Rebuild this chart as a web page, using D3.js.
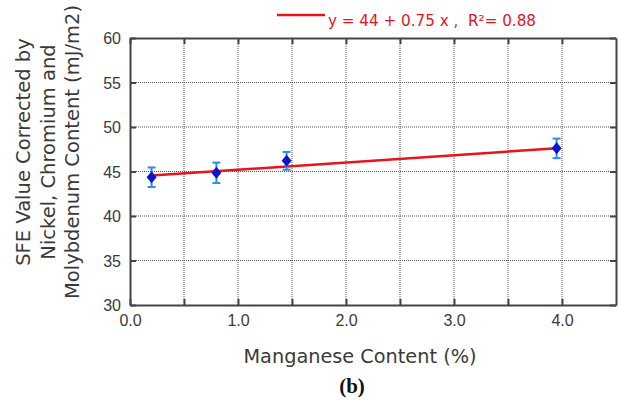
<!DOCTYPE html>
<html><head><meta charset="utf-8">
<script src="https://cdn.jsdelivr.net/npm/d3@7"></script>
<style>body{margin:0;background:#fff}svg{display:block}</style>
</head><body><svg id="c" width="626" height="403"></svg>
<script>
const mnContent = [0.2, 0.8, 1.45, 3.95];
const sfeValues = [44.35, 44.85, 46.2, 47.6];
const sfeErrors = [1.1, 1.15, 1.0, 1.1];
const fitX = [0.2, 3.95];
const fitY = [44.55, 47.6];
const xTickLabels = ["0.0", "1.0", "2.0", "3.0", "4.0"];
const yTickLabels = ["30", "35", "40", "45", "50", "55", "60"];
const legendText = "y = 44 + 0.75 x ,  R\u00B2= 0.88";
const yTitleLines = ["SFE Value Corrected by", "Nickel, Chromium and", "Molybdenum Content (mJ/m2)"];
const xTitle = "Manganese Content (%)";
const panelLabel = "(b)";

const svg = d3.select("#c");
const m = {l:130, t:38, r:616, b:305};
const x = d3.scaleLinear().domain([0, 4.5]).range([m.l, m.r]);
const y = d3.scaleLinear().domain([30, 60]).range([m.b, m.t]);
const font = "'Liberation Sans', Arial, sans-serif";
const tfont = "'DejaVu Sans', sans-serif";
const txt = "#3a3a3a";

// grid
const xg = d3.range(0.5, 4.5, 0.5);
const yg = d3.range(35, 60, 5);
svg.append("g").selectAll("line").data(xg).join("line")
  .attr("x1", d=>x(d)).attr("x2", d=>x(d)).attr("y1", m.t).attr("y2", m.b)
  .attr("stroke", "#555").attr("stroke-width", 1).attr("stroke-dasharray", "1,1");
svg.append("g").selectAll("line").data(yg).join("line")
  .attr("y1", d=>y(d)).attr("y2", d=>y(d)).attr("x1", m.l).attr("x2", m.r)
  .attr("stroke", "#555").attr("stroke-width", 1).attr("stroke-dasharray", "1,1");

// axes with inward ticks
const axB = svg.append("g").attr("transform", `translate(0,${m.b})`)
  .call(d3.axisBottom(x).tickValues(d3.range(0, 4.5, 0.5)).tickSizeInner(-6).tickSizeOuter(0).tickPadding(10)
    .tickFormat(d => Number.isInteger(d) ? xTickLabels[d] : ""));
const axL = svg.append("g").attr("transform", `translate(${m.l},0)`)
  .call(d3.axisLeft(y).tickValues(yTickLabels.map(Number)).tickSizeInner(-6).tickSizeOuter(0).tickPadding(9)
    .tickFormat((d,i) => yTickLabels[i]));
const axT = svg.append("g").attr("transform", `translate(0,${m.t})`)
  .call(d3.axisTop(x).tickValues(d3.range(0, 4.5, 0.5)).tickSizeInner(-6).tickSizeOuter(0).tickFormat(""));
const axR = svg.append("g").attr("transform", `translate(${m.r},0)`)
  .call(d3.axisRight(y).tickValues(yTickLabels.map(Number)).tickSizeInner(-6).tickSizeOuter(0).tickFormat(""));
[axB, axL, axT, axR].forEach(a => {
  a.select(".domain").attr("stroke", "#444").attr("stroke-width", 2);
  a.selectAll(".tick line").attr("stroke", "#444").attr("stroke-width", 2);
  a.selectAll("text").attr("font-family", font).attr("font-size", 16).attr("fill", txt);
});
axL.selectAll("text").attr("dy", "0.35em");

// fit line
svg.append("path").datum(fitX.map((d,i)=>[d, fitY[i]]))
  .attr("d", d3.line().x(d=>x(d[0])).y(d=>y(d[1])))
  .attr("stroke", "#e8141c").attr("stroke-width", 2.5).attr("fill", "none");

// error bars
const eb = svg.append("g").attr("stroke", "#2a8cf0").attr("stroke-width", 2);
mnContent.forEach((d,i) => {
  const cx = x(d), y1 = y(sfeValues[i]+sfeErrors[i]), y2 = y(sfeValues[i]-sfeErrors[i]);
  eb.append("line").attr("x1", cx).attr("x2", cx).attr("y1", y1).attr("y2", y2);
  eb.append("line").attr("x1", cx-4).attr("x2", cx+4).attr("y1", y1).attr("y2", y1);
  eb.append("line").attr("x1", cx-4).attr("x2", cx+4).attr("y1", y2).attr("y2", y2);
});

// markers
svg.append("g").selectAll("path").data(mnContent).join("path")
  .attr("transform", (d,i)=>`translate(${x(d)},${y(sfeValues[i])})`)
  .attr("d", "M0,-6L5,0L0,6L-5,0Z").attr("fill", "#0a14d8");

// legend
svg.append("line").attr("x1", 277).attr("x2", 325).attr("y1", 15).attr("y2", 15)
  .attr("stroke", "#e8141c").attr("stroke-width", 2.5);
svg.append("text").attr("x", 328).attr("y", 26).attr("font-family", tfont).attr("font-size", 15.2)
  .attr("fill", "#e8141c").attr("xml:space", "preserve").text(legendText);

// axis titles
const yt = svg.append("text").attr("transform", "translate(30,152) rotate(-90)")
  .attr("text-anchor", "middle").attr("font-family", tfont).attr("font-size", 19.5).attr("fill", txt);
yTitleLines.forEach((s,i) =>
  yt.append("tspan").attr("x", 0).attr("dy", i===0 ? 0 : 24.5).text(s));

svg.append("text").attr("x", 360).attr("y", 363).attr("text-anchor", "middle")
  .attr("font-family", tfont).attr("font-size", 19.3).attr("fill", txt).text(xTitle);
svg.append("text").attr("x", 352).attr("y", 393).attr("text-anchor", "middle")
  .attr("font-family", "'Liberation Serif', 'Times New Roman', serif").attr("font-weight", "bold")
  .attr("font-size", 21).attr("fill", "#111").text(panelLabel);
</script></body></html>
